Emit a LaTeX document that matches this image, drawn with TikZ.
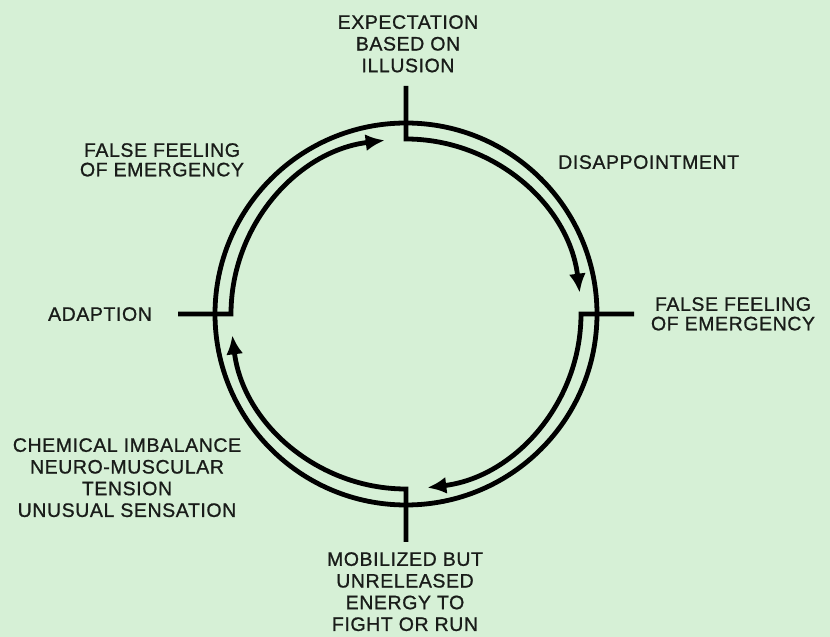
\documentclass[tikz,border=0pt]{standalone}
\usepackage{fontspec}
\setmainfont{Liberation Sans}[LetterSpace=3, FakeBold=0.9]
\usetikzlibrary{arrows.meta}
\definecolor{paleg}{RGB}{214,240,214}
\definecolor{inkk}{RGB}{25,28,25}

\begin{document}
\begin{tikzpicture}[x=1pt, y=1pt, >={Latex[length=19pt,width=17pt]},
                    ring/.style={line width=4.8pt},
                    lbl/.style={align=center, inner sep=0pt, text=inkk, font=\fontsize{19.5}{21.7}\selectfont},
                    lbltwo/.style={lbl, font=\fontsize{19.5}{19.5}\selectfont}]
  \fill[paleg] (0,0) rectangle (830,637);
  \useasboundingbox (0,0) rectangle (830,637);
  \coordinate (c) at (406,323);
  \draw[ring] (c) circle (191);
  % each quarter starts at its tick and runs clockwise
  \foreach \a in {90,0,-90,180}
    \draw[ring,->] ([shift={(\a:228)}]c) -- ([shift={(\a:175)}]c)
      arc[start angle=\a, end angle=\a-83, radius=175];
  \node[lbl, anchor=north] (expect) at (408,622) {EXPECTATION\\BASED ON\\ILLUSION};
  \node[lbl, anchor=north west] (disap) at (558,482) {DISAPPOINTMENT};
  \node[lbltwo, anchor=north] (falser) at (733,340) {FALSE FEELING\\OF EMERGENCY};
  \node[lbl, anchor=north] (mobil) at (405,85) {MOBILIZED BUT\\UNRELEASED\\ENERGY TO\\FIGHT OR RUN};
  \node[lbl, anchor=north] (chem) at (127,199) {CHEMICAL IMBALANCE\\NEURO-MUSCULAR\\TENSION\\UNUSUAL SENSATION};
  \node[lbl, anchor=north] (adapt) at (100,330) {ADAPTION};
  \node[lbltwo, anchor=north] (falsel) at (162,494) {FALSE FEELING\\OF EMERGENCY};
\end{tikzpicture}
\end{document}
